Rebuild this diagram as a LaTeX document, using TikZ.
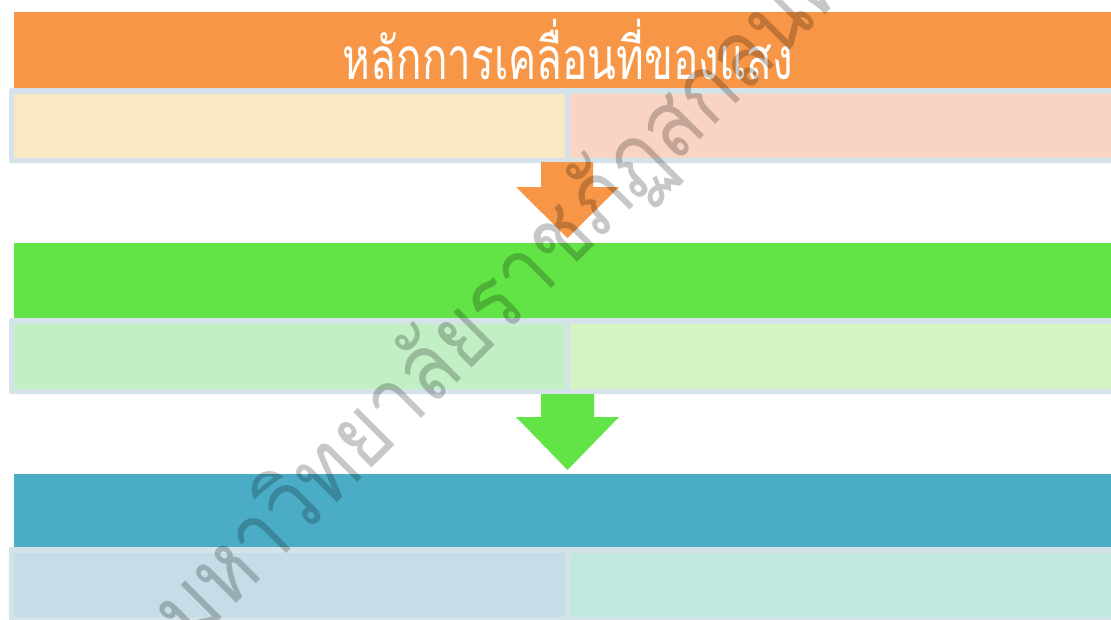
\documentclass[tikz,border=0pt]{standalone}
\usepackage{fontspec}
\newfontfamily\thaihead[Script=Thai,FakeStretch=0.72]{Loma}
\newfontfamily\thaiwm[Script=Thai,FakeStretch=0.86]{Loma}
\definecolor{cOrange}{HTML}{F79646}
\definecolor{cGreen}{HTML}{62E346}
\definecolor{cBlue}{HTML}{4BACC6}
\definecolor{cFrame}{HTML}{D4E3E9}
\definecolor{cYel}{HTML}{F8E9C3}
\definecolor{cPeach}{HTML}{FAD4C2}
\definecolor{cLGreen}{HTML}{C2F0C4}
\definecolor{cLLime}{HTML}{D5F4C2}
\definecolor{cLBlue}{HTML}{C4DDE6}
\definecolor{cLTeal}{HTML}{C2E9E0}
\tikzset{
  framebox/.style={fill=cFrame, rounded corners=1.5pt},
  headtext/.style={text=white, font=\thaihead\fontsize{44}{48}\selectfont, inner sep=0pt, anchor=base},
  wmark/.style={text=black, opacity=0.22, font=\thaiwm\fontsize{70}{74}\selectfont, inner sep=0pt, rotate=45, anchor=base west}
}
\begin{document}
\begin{tikzpicture}[x=0.75pt,y=-0.75pt]
\useasboundingbox (0,0) rectangle (1111,619);
\fill[white] (0,0) rectangle (1111,619);
% row 1
\fill[cOrange] (14,12) rectangle (1111,88);
\fill[framebox] (9,88) rectangle (1120,163);
\fill[cYel] (14,94) rectangle (565,158);
\fill[cPeach] (570,94) rectangle (1111,158);
\node[headtext] (title) at (568,79) {หลักการเคลื่อนที่ของแสง};
\fill[cOrange] (541,162) -- (593,162) -- (593,187) -- (619,187) -- (567.5,238) -- (516,187) -- (541,187) -- cycle;
% row 2
\fill[cGreen] (14,243) rectangle (1111,318);
\fill[framebox] (9,318) rectangle (1120,394);
\fill[cLGreen] (14,324) rectangle (565,389);
\fill[cLLime] (570,324) rectangle (1111,389);
\fill[cGreen] (541,394) -- (594,394) -- (594,417) -- (619,417) -- (567.5,470) -- (516,417) -- (541,417) -- cycle;
% row 3
\fill[cBlue] (14,474) rectangle (1111,547);
\fill[framebox] (9,547) rectangle (1120,630);
\fill[cLBlue] (14,553) rectangle (565,617);
\fill[cLTeal] (570,553) rectangle (1111,617);
% watermark
\node[wmark] (wm) at (190,650) {มหาวิทยาลัยราชภัฏสกลนคร};
\end{tikzpicture}
\end{document}
